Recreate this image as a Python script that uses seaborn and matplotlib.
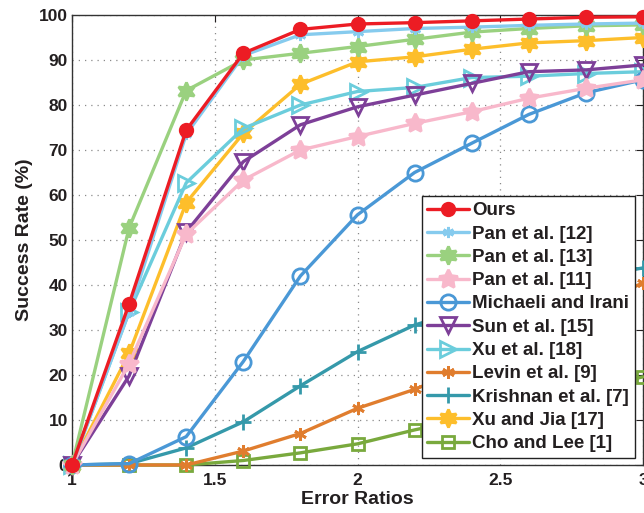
import numpy as np
import pandas as pd
import matplotlib
matplotlib.use("Agg")
import matplotlib.pyplot as plt
import seaborn as sns

# ---- data ----
error_ratios = [1.0, 1.2, 1.4, 1.6, 1.8, 2.0, 2.2, 2.4, 2.6, 2.8, 3.0]
methods = ["Ours", "Pan et al. [12]", "Pan et al. [13]", "Pan et al. [11]",
           "Michaeli and Irani", "Sun et al. [15]", "Xu et al. [18]",
           "Levin et al. [9]", "Krishnan et al. [7]", "Xu and Jia [17]",
           "Cho and Lee [1]"]
ours = [0, 35.8, 74.4, 91.5, 96.8, 98.0, 98.3, 98.7, 99.1, 99.5, 99.6]
pan12 = [0, 34.0, 73.5, 91.0, 95.6, 96.3, 97.0, 97.3, 97.7, 98.0, 98.2]
pan13 = [0, 52.7, 83.2, 90.0, 91.5, 93.0, 94.6, 96.2, 97.0, 97.6, 97.8]
pan11 = [0, 22.5, 51.3, 63.3, 70.0, 73.0, 75.9, 78.5, 81.5, 83.7, 85.6]
michaeli = [0, 0.3, 6.3, 23.0, 42.0, 55.6, 65.0, 71.5, 77.9, 82.7, 85.6]
sun15 = [0, 19.8, 51.8, 67.4, 75.6, 79.6, 82.2, 84.8, 87.4, 87.8, 88.9]
xu18 = [0, 34.0, 62.7, 74.8, 80.0, 83.0, 83.9, 86.1, 86.4, 87.0, 87.4]
levin9 = [0, 0, 0, 3.1, 7.0, 12.6, 16.8, 22.0, 28.0, 34.5, 40.5]
krishnan7 = [0, 0.3, 3.8, 9.6, 17.6, 25.2, 31.1, 35.0, 38.5, 41.5, 43.8]
xujia17 = [0, 24.8, 58.3, 73.7, 84.6, 89.6, 90.7, 92.4, 93.8, 94.3, 95.0]
cholee1 = [0, 0, 0, 1.0, 2.7, 4.7, 7.8, 10.5, 13.5, 16.5, 19.6]
series = [ours, pan12, pan13, pan11, michaeli, sun15, xu18, levin9,
          krishnan7, xujia17, cholee1]
x_ticks = [1, 1.5, 2, 2.5, 3]
x_tick_labels = ["1", "1.5", "2", "2.5", "3"]
y_ticks = list(range(0, 101, 10))

# ---- styles ----
colors = ["#EC1C24", "#86CBEE", "#9AD17F", "#F8B8CB", "#4A98D6", "#7D3F98",
          "#6BCDDC", "#E07D2E", "#3599AA", "#FDBE2B", "#79A93D"]
markers = ["o", (6, 2, 0), (6, 1, 0), (5, 1, 0), "o", "v", ">", (6, 2, 0),
           "+", (6, 1, 0), "s"]
msizes = [9, 8, 13, 14, 11, 11, 11, 9, 11, 13, 9]
filled = [True, True, True, True, False, False, False, True, True, True, False]

sns.set_style("white")
plt.rcParams["font.family"] = ["Liberation Sans", "DejaVu Sans"]
plt.rcParams["font.weight"] = "bold"
text_color = "#231F20"

fig = plt.figure(figsize=(6.44, 5.13), dpi=100)
ax = fig.add_axes([72 / 644, 48 / 513, 571 / 644, 450 / 513])

for i, (name, vals) in enumerate(zip(methods, series)):
    df = pd.DataFrame({"ratio": error_ratios, "rate": vals})
    kw = dict(marker=markers[i], markersize=msizes[i], linewidth=2.4,
              markeredgewidth=2.0, markeredgecolor=colors[i])
    kw["markerfacecolor"] = colors[i] if filled[i] else "none"
    sns.lineplot(data=df, x="ratio", y="rate", color=colors[i], label=name,
                 ax=ax, zorder=30 - i, clip_on=False, **kw)

ax.set_xlim(1, 3)
ax.set_ylim(0, 100)
ax.set_xticks(x_ticks)
ax.set_xticklabels(x_tick_labels)
ax.set_yticks(y_ticks)
ax.tick_params(direction="in", length=5, width=0.8, labelsize=12.5,
               colors=text_color, top=True, right=True)
ax.tick_params(axis="x", pad=6)
ax.tick_params(axis="y", pad=3)
for lab in ax.get_xticklabels() + ax.get_yticklabels():
    lab.set_fontweight("bold")
ax.grid(True, color="#8a8a8a", linestyle=(0, (1, 4)), linewidth=0.9)
for sp in ax.spines.values():
    sp.set_visible(True)
    sp.set_color("#333333")
    sp.set_linewidth(1.0)

ax.set_xlabel("Error Ratios", fontsize=14, fontweight="bold",
              color=text_color, labelpad=2)
ax.set_ylabel("Success Rate (%)", fontsize=14, fontweight="bold",
              color=text_color, labelpad=4)

leg = ax.legend(loc="lower right", bbox_to_anchor=(0.986, 0.0156),
                frameon=True, fancybox=False, framealpha=1, edgecolor="#222222",
                fontsize=13.5, handlelength=2.2, handletextpad=0.2,
                labelspacing=0.33, borderpad=0.3, borderaxespad=0)
leg.get_frame().set_linewidth(1.0)
leg.set_zorder(100)
for t in leg.get_texts():
    t.set_fontweight("bold")
    t.set_color(text_color)

fig.savefig("out.png", dpi=100)
